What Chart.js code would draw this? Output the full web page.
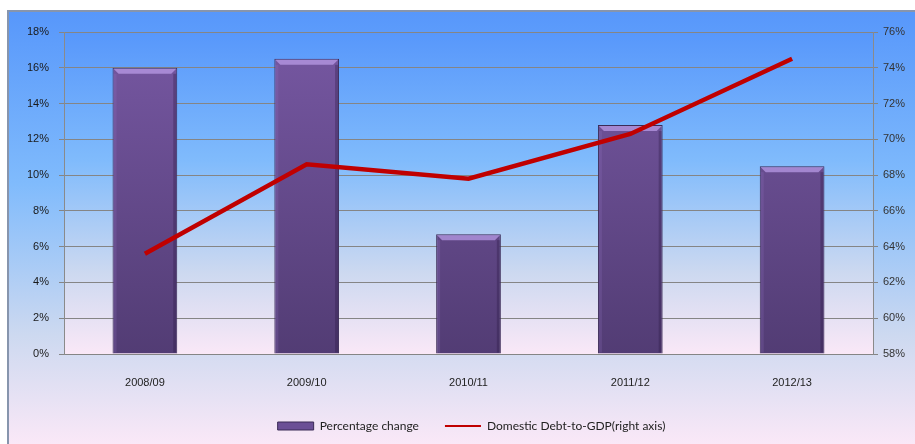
<!DOCTYPE html>
<html>
<head>
<meta charset="utf-8">
<script src="https://cdn.jsdelivr.net/npm/chart.js@4.4.1/dist/chart.umd.min.js"></script>
<style>
    html, body { margin: 0; padding: 0; background: #ffffff; }
    #wrap { width: 915px; height: 444px; }
</style>
</head>
<body>
<div id="wrap"><canvas id="debtChart" width="915" height="444"></canvas></div>
<script>
    // data
    const years = ['2008/09', '2009/10', '2010/11', '2011/12', '2012/13'];
    const percentageChange = [16.0, 16.5, 6.7, 12.8, 10.5];
    const debtToGdp = [63.6, 68.6, 67.8, 70.3, 74.5];
    const leftTicks = [0, 2, 4, 6, 8, 10, 12, 14, 16, 18];
    const rightTicks = [58, 60, 62, 64, 66, 68, 70, 72, 74, 76];

    const tickFont = { family: "'Liberation Sans', Arial", size: 11 };

    function skyGradient(ctx, top, bottom) {
        const g = ctx.createLinearGradient(0, top, 0, bottom);
        g.addColorStop(0, '#5797fb');
        g.addColorStop(0.4, '#80bbfc');
        g.addColorStop(0.75, '#cdd9f0');
        g.addColorStop(1, '#fae8f7');
        return g;
    }

    // frame background + plot area background
    const framePlugin = {
        id: 'frame',
        beforeDraw(chart) {
            const ctx = chart.ctx;
            const a = chart.chartArea;
            ctx.save();
            ctx.fillStyle = '#ffffff';
            ctx.fillRect(0, 0, chart.width, chart.height);
            ctx.fillStyle = skyGradient(ctx, 11, chart.height);
            ctx.fillRect(7, 11, chart.width - 7, chart.height - 11);
            ctx.fillStyle = skyGradient(ctx, a.top, a.bottom);
            ctx.fillRect(a.left, a.top, a.right - a.left, a.bottom - a.top);
            ctx.strokeStyle = '#8795ad';
            ctx.lineWidth = 2;
            ctx.strokeRect(8, 11, chart.width, chart.height);
            ctx.restore();
        }
    };

    // soft bevel on every bar
    const bevelPlugin = {
        id: 'bevel',
        afterDatasetDraw(chart, args) {
            if (args.meta.type !== 'bar') return;
            const ctx = chart.ctx;
            ctx.save();
            args.meta.data.forEach(bar => {
                const left = bar.x - bar.width / 2;
                const right = bar.x + bar.width / 2;
                const top = bar.y;
                const bottom = bar.base;
                ctx.fillStyle = 'rgba(190,160,235,0.7)';
                ctx.beginPath();
                ctx.moveTo(left + 1, top + 1);
                ctx.lineTo(right - 1, top + 1);
                ctx.lineTo(right - 6, top + 6);
                ctx.lineTo(left + 6, top + 6);
                ctx.closePath();
                ctx.fill();
                ctx.fillStyle = 'rgba(35,20,60,0.3)';
                ctx.fillRect(right - 4, top + 6, 3, bottom - top - 7);
                ctx.fillStyle = 'rgba(150,120,200,0.2)';
                ctx.fillRect(left + 1, top + 6, 3, bottom - top - 7);
            });
            ctx.restore();
        }
    };

    function barFill(c) {
        const area = c.chart.chartArea;
        if (!area) return '#6a4f93';
        const g = c.chart.ctx.createLinearGradient(0, area.top, 0, area.bottom);
        g.addColorStop(0, '#7758a3');
        g.addColorStop(1, '#523c74');
        return g;
    }

    new Chart(document.getElementById('debtChart'), {
        data: {
            labels: years,
            datasets: [{
                type: 'line',
                label: 'Domestic Debt-to-GDP(right axis)',
                data: debtToGdp,
                yAxisID: 'y1',
                borderColor: '#c00000',
                backgroundColor: '#c00000',
                borderWidth: 4.5,
                pointRadius: 0,
                tension: 0,
                order: 0
            }, {
                type: 'bar',
                label: 'Percentage change',
                data: percentageChange,
                yAxisID: 'y',
                backgroundColor: barFill,
                borderColor: '#3b2b57',
                borderWidth: 1,
                barPercentage: 0.4,
                categoryPercentage: 1,
                order: 1
            }]
        },
        options: {
            responsive: false,
            animation: false,
            layout: { padding: { left: 28, right: 0, top: 32, bottom: 2 } },
            plugins: {
                tooltip: { enabled: false },
                legend: {
                    position: 'bottom',
                    reverse: true,
                    labels: {
                        usePointStyle: true,
                        pointStyleWidth: 36,
                        boxHeight: 8,
                        padding: 26,
                        color: '#222222',
                        font: { family: 'Lato', size: 12 },
                        generateLabels(chart) {
                            const items = Chart.defaults.plugins.legend.labels.generateLabels(chart);
                            return items.map(it => {
                                if (it.datasetIndex === 1) {
                                    it.pointStyle = 'rect';
                                    it.fillStyle = '#6b4f96';
                                    it.strokeStyle = '#3b2b57';
                                    it.lineWidth = 1;
                                } else {
                                    it.pointStyle = 'line';
                                    it.strokeStyle = '#c00000';
                                    it.lineWidth = 2;
                                }
                                return it;
                            });
                        }
                    }
                }
            },
            scales: {
                x: {
                    grid: { display: false },
                    border: { display: false },
                    ticks: { color: '#222222', font: tickFont, padding: 14 },
                    afterFit(s) { s.height = 40; }
                },
                y: {
                    position: 'left',
                    min: 0,
                    max: 18,
                    afterBuildTicks(s) { s.ticks = leftTicks.map(v => ({ value: v })); },
                    ticks: {
                        color: '#1a1a1a',
                        font: tickFont,
                        padding: 10,
                        callback: v => v + '%'
                    },
                    grid: { color: '#858585', lineWidth: 1, tickLength: 5 },
                    border: { color: '#8a8a8a', width: 1 },
                    afterFit(s) { s.width = 36; }
                },
                y1: {
                    position: 'right',
                    min: 58,
                    max: 76,
                    afterBuildTicks(s) { s.ticks = rightTicks.map(v => ({ value: v })); },
                    ticks: {
                        color: '#333333',
                        font: tickFont,
                        padding: 5,
                        callback: v => v + '%'
                    },
                    grid: { drawOnChartArea: false, color: '#858585', tickLength: 5 },
                    border: { color: '#8a8a8a', width: 1 },
                    afterFit(s) { s.width = 42; }
                }
            }
        },
        plugins: [framePlugin, bevelPlugin]
    });
</script>
</body>
</html>
